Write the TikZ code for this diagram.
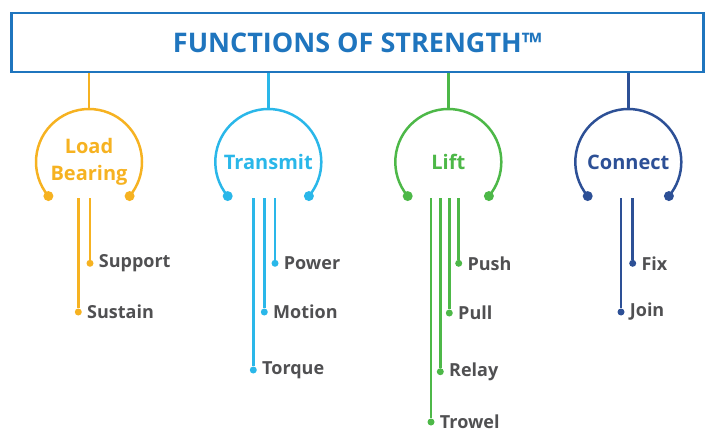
\documentclass[tikz,border=0pt]{standalone}
\usepackage{fontspec}
\setmainfont{Open Sans}
\usetikzlibrary{positioning}

\definecolor{TitleBlue}{HTML}{1F75BE}
\definecolor{LoadOrange}{HTML}{F6B221}
\definecolor{SkyBlue}{HTML}{2AB7E9}
\definecolor{LiftGreen}{HTML}{4DB848}
\definecolor{NavyBlue}{HTML}{2D5096}
\definecolor{ItemGrey}{HTML}{505052}

\tikzset{
  titlebox/.style={draw=TitleBlue,line width=2.5pt,minimum width=692pt,minimum height=59pt,
    text=TitleBlue,font=\bfseries\fontsize{27}{30}\selectfont},
  ring/.style={line width=2.5pt},
  leg/.style={line width=2.5pt},
  enddot/.style={circle,fill,inner sep=0pt,minimum size=10pt},
  tipdot/.style={circle,fill,inner sep=0pt,minimum size=7pt},
  head/.style={font=\bfseries\fontsize{20}{27}\selectfont,align=center},
  item/.style={font=\bfseries\fontsize{18}{20}\selectfont,text=ItemGrey,inner sep=0pt},
}

\begin{document}
\begin{tikzpicture}[x=1pt,y=1pt]
\useasboundingbox (0,0) rectangle (709,432);

\node[titlebox] (title) at (357.5,389.5) {FUNCTIONS OF STRENGTH™};
\coordinate (legbase) at (0,234);

% load bearing
\node[head,text=LoadOrange] (load) at (89,270) {Load\\Bearing};
\draw[ring,LoadOrange] (load.center) ++(220:53) arc[start angle=220,end angle=-40,radius=53];
\path (load.center) ++(220:53) node[enddot,LoadOrange] (loadL) {};
\path (load.center) ++(-40:53) node[enddot,LoadOrange] (loadR) {};
\path (load.center) ++(90:53) coordinate (loadtop);
\draw[leg,LoadOrange] (loadtop |- title.south) -- (loadtop);

\node[tipdot,LoadOrange] (support) at (90,168.7) {};
\node[tipdot,LoadOrange] (sustain) at (78.3,120) {};
\draw[leg,LoadOrange] (support |- legbase) -- (support);
\draw[leg,LoadOrange] (sustain |- legbase) -- (sustain);
\node[item,right=5pt of support] {Support};
\node[item,right=5pt of sustain] {Sustain};

% transmit
\node[head,text=SkyBlue] (transmit) at (268.3,270) {Transmit};
\draw[ring,SkyBlue] (transmit.center) ++(220:53) arc[start angle=220,end angle=-40,radius=53];
\path (transmit.center) ++(220:53) node[enddot,SkyBlue] (transmitL) {};
\path (transmit.center) ++(-40:53) node[enddot,SkyBlue] (transmitR) {};
\path (transmit.center) ++(90:53) coordinate (transmittop);
\draw[leg,SkyBlue] (transmittop |- title.south) -- (transmittop);

\node[tipdot,SkyBlue] (power) at (275,168.7) {};
\node[tipdot,SkyBlue] (motion) at (264.3,120) {};
\node[tipdot,SkyBlue] (torque) at (253.3,62) {};
\draw[leg,SkyBlue] (power |- legbase) -- (power);
\draw[leg,SkyBlue] (motion |- legbase) -- (motion);
\draw[leg,SkyBlue] (torque |- legbase) -- (torque);
\node[item,right=5pt of power] {Power};
\node[item,right=5pt of motion] {Motion};
\node[item,right=5pt of torque] {Torque};

% lift
\node[head,text=LiftGreen] (lift) at (448.3,270) {Lift};
\draw[ring,LiftGreen] (lift.center) ++(220:53) arc[start angle=220,end angle=-40,radius=53];
\path (lift.center) ++(220:53) node[enddot,LiftGreen] (liftL) {};
\path (lift.center) ++(-40:53) node[enddot,LiftGreen] (liftR) {};
\path (lift.center) ++(90:53) coordinate (lifttop);
\draw[leg,LiftGreen] (lifttop |- title.south) -- (lifttop);

\node[tipdot,LiftGreen] (push) at (458.7,168.7) {};
\node[tipdot,LiftGreen] (pull) at (449.3,119) {};
\node[tipdot,LiftGreen] (relay) at (440.3,60.3) {};
\node[tipdot,LiftGreen] (trowel) at (431,10) {};
\draw[leg,LiftGreen] (push |- legbase) -- (push);
\draw[leg,LiftGreen] (pull |- legbase) -- (pull);
\draw[leg,LiftGreen] (relay |- legbase) -- (relay);
\draw[leg,LiftGreen] (trowel |- legbase) -- (trowel);
\node[item,right=5pt of push] {Push};
\node[item,right=5pt of pull] {Pull};
\node[item,right=5pt of relay] {Relay};
\node[item,right=5pt of trowel] {Trowel};

% connect
\node[head,text=NavyBlue] (connect) at (628.3,270) {Connect};
\draw[ring,NavyBlue] (connect.center) ++(220:53) arc[start angle=220,end angle=-40,radius=53];
\path (connect.center) ++(220:53) node[enddot,NavyBlue] (connectL) {};
\path (connect.center) ++(-40:53) node[enddot,NavyBlue] (connectR) {};
\path (connect.center) ++(90:53) coordinate (connecttop);
\draw[leg,NavyBlue] (connecttop |- title.south) -- (connecttop);

\node[tipdot,NavyBlue] (fix) at (632.7,168.7) {};
\node[tipdot,NavyBlue] (join) at (621,120) {};
\draw[leg,NavyBlue] (fix |- legbase) -- (fix);
\draw[leg,NavyBlue] (join |- legbase) -- (join);
\node[item,right=5pt of fix] {Fix};
\node[item,right=5pt of join] {Join};
\end{tikzpicture}
\end{document}
